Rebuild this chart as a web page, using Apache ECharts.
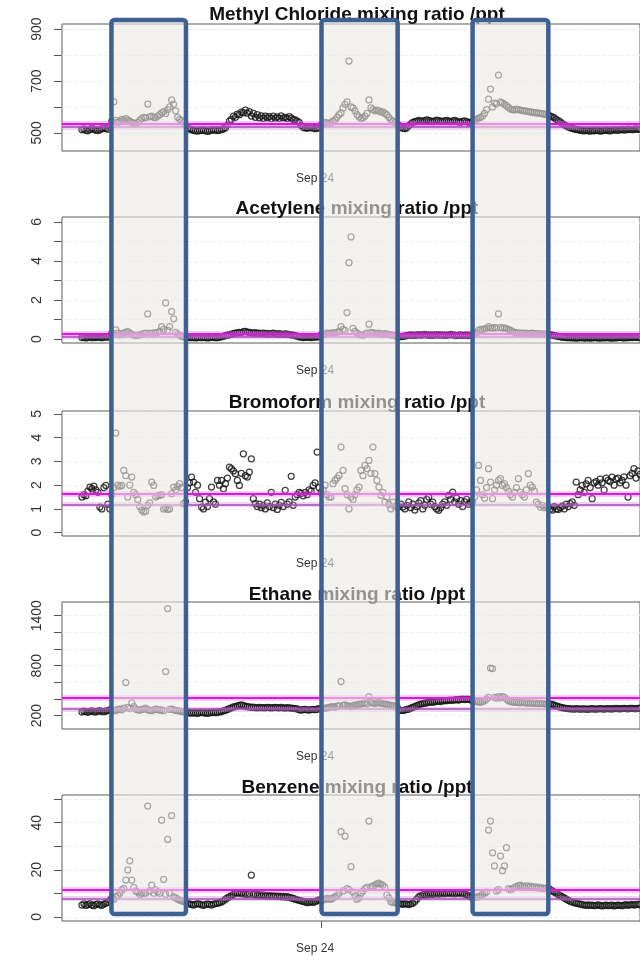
<!DOCTYPE html>
<html><head><meta charset="utf-8">
<script src="https://cdn.jsdelivr.net/npm/echarts@6/dist/echarts.min.js"></script>
<style>html,body{margin:0;padding:0;background:#fff}#c{width:640px;height:960px}</style>
</head><body><div id="c"></div>
<script>
// ---------- DATA ----------
// measurement times, hours relative to Sep 24 00:00
const hours = [
-60,-59.5,-59,-58.5,-58,-57.5,-57,-56.5,-56,-55.5,-55,-54.5,-54,-53.5,-53,-52.5,-52,-51.5,-51,-50.5,
-50,-49.5,-49,-48.5,-48,-47.5,-47,-46.5,-46,-45.5,-45,-44.5,-44,-43.5,-43,-42.5,-42,-41.5,-41,-40.5,
-40,-39.5,-39,-38.5,-38,-37.5,-37,-36.5,-36,-35.5,-35,-34.5,-34,-33.5,-33,-32.5,-32,-31.5,-31,-30.5,
-30,-29.5,-29,-28.5,-28,-27.5,-27,-26.5,-26,-25.5,-25,-24.5,-24,-23.5,-23,-22.5,-22,-21.5,-21,-20.5,
-20,-19.5,-19,-18.5,-18,-17.5,-17,-16.5,-16,-15.5,-15,-14.5,-14,-13.5,-13,-12.5,-12,-11.5,-11,-10.5,
-10,-9.5,-9,-8.5,-8,-7.5,-7,-6.5,-6,-5.5,-5,-4.5,-4,-3.5,-3,-2.5,-2,-1.5,-1,-0.5,
0,0.5,1,1.5,2,2.5,3,3.5,4,4.5,5,5.5,6,6.5,7,7.5,8,8.5,9,9.5,
10,10.5,11,11.5,12,12.5,13,13.5,14,14.5,15,15.5,16,16.5,17,17.5,18,18.5,19,19.5,
20,20.5,21,21.5,22,22.5,23,23.5,24,24.5,25,25.5,26,26.5,27,27.5,28,28.5,29,29.5,
30,30.5,31,31.5,32,32.5,33,33.5,34,34.5,35,35.5,36,36.5,37,37.5,38,38.5,39,39.5,
40,40.5,41,41.5,42,42.5,43,43.5,44,44.5,45,45.5,46,46.5,47,47.5,48,48.5,49,49.5,
50,50.5,51,51.5,52,52.5,53,53.5,54,54.5,55,55.5,56,56.5,57,57.5,58,58.5,59,59.5,
60,60.5,61,61.5,62,62.5,63,63.5,64,64.5,65,65.5,66,66.5,67,67.5,68,68.5,69,69.5,
70,70.5,71,71.5,72,72.5,73,73.5,74,74.5,75,75.5,76,76.5,77,77.5,78,78.5,79,79.5,
80];

const methylChloride = [
512,515,510,508,513,518,514,510,509,512,516,520,517,514,525,
545,620,548,540,545,552,548,555,550,545,540,538,535,540,548,555,560,558,611,562,565,560,558,565,570,578,582,575,590,600,627,610,585,560,552,548,540,530,
518,515,512,510,508,507,509,511,510,508,506,508,510,512,511,509,510,513,515,520,
530,545,552,565,560,572,570,580,578,588,576,582,565,575,560,570,558,566,556,565,558,563,555,565,557,562,556,566,558,560,555,563,557,552,550,545,
540,528,522,519,518,520,523,518,516,518,520,
530,535,540,538,535,540,545,550,560,570,577,596,610,620,777,600,596,585,570,562,555,558,565,575,627,596,590,585,588,585,580,581,575,570,560,550,545,540,535,
530,522,518,516,520,528,535,540,543,545,548,546,544,547,550,548,545,543,546,549,547,545,544,546,548,545,543,546,548,545,542,540,544,546,543,540,538,
545,548,552,557,560,565,575,590,630,669,600,615,612,723,619,615,610,605,598,592,590,588,592,590,588,586,585,584,582,580,580,578,578,576,575,574,572,570,
568,565,562,558,552,547,542,536,531,527,523,520,517,515,513,512,510,509,508,510,508,507,509,508,510,509,507,508,510,511,509,508,510,512,511,510,512,513,511,512,514,513,512,514,515,513,514];

const acetylene = [
0.08,0.1,0.06,0.09,0.12,0.07,0.1,0.08,0.11,0.09,0.07,0.1,0.12,0.09,0.15,
0.3,0.25,0.47,0.3,0.22,0.28,0.3,0.35,0.39,0.3,0.25,0.2,0.18,0.2,0.22,0.25,0.28,0.3,1.29,0.3,0.28,0.32,0.3,0.35,0.4,0.64,0.5,1.85,0.45,0.64,1.41,1.04,0.35,0.25,0.2,0.15,0.12,0.1,
0.1,0.08,0.07,0.09,0.06,0.08,0.1,0.07,0.09,0.08,0.06,0.08,0.1,0.09,0.07,0.08,0.1,0.12,0.15,0.18,
0.2,0.22,0.25,0.28,0.3,0.32,0.35,0.33,0.38,0.4,0.36,0.34,0.32,0.3,0.33,0.29,0.31,0.28,0.3,0.27,0.29,0.26,0.28,0.3,0.27,0.25,0.28,0.26,0.24,0.27,0.25,0.23,0.22,0.2,0.18,0.15,
0.12,0.1,0.08,0.1,0.09,0.11,0.08,0.1,0.12,0.1,0.15,
0.2,0.22,0.25,0.3,0.28,0.3,0.32,0.3,0.35,0.4,0.64,0.5,0.45,1.36,3.91,5.23,0.55,0.4,0.3,0.25,0.22,0.2,0.25,0.3,0.76,0.35,0.32,0.3,0.28,0.3,0.27,0.25,0.28,0.26,0.24,0.22,0.2,0.18,0.15,
0.15,0.12,0.14,0.16,0.18,0.2,0.22,0.2,0.19,0.21,0.23,0.2,0.22,0.24,0.21,0.2,0.22,0.19,0.21,0.23,0.2,0.22,0.21,0.19,0.2,0.22,0.24,0.21,0.2,0.18,0.2,0.22,0.19,0.2,0.21,0.18,0.2,
0.25,0.28,0.3,0.45,0.5,0.48,0.52,0.55,0.64,0.58,0.55,0.6,0.56,1.29,0.6,0.55,0.58,0.54,0.5,0.45,0.4,0.35,0.32,0.3,0.31,0.3,0.29,0.3,0.28,0.29,0.3,0.28,0.27,0.28,0.26,0.27,0.25,0.24,
0.25,0.22,0.2,0.18,0.16,0.14,0.12,0.1,0.09,0.08,0.07,0.08,0.06,0.07,0.05,0.06,0.08,0.07,0.05,0.06,0.07,0.05,0.06,0.08,0.07,0.06,0.05,0.07,0.06,0.08,0.07,0.06,0.05,0.07,0.06,0.08,0.09,0.07,0.06,0.08,0.07,0.09,0.08,0.1,0.09,0.08,0.1];

const bromoform = [
1.5,1.6,1.55,1.75,1.92,1.85,1.96,1.8,1.7,1.08,1.0,1.9,1.99,1.2,1.0,
1.6,1.9,4.19,2.0,1.95,1.99,2.62,2.4,1.5,2.0,2.34,1.7,1.6,1.4,1.1,0.95,0.87,0.9,1.15,1.25,2.13,1.99,1.5,1.55,1.57,1.6,1.0,1.05,0.98,1.0,1.64,1.92,1.8,1.95,2.06,1.9,1.22,1.3,
1.9,2.1,2.34,2.13,1.7,2.0,1.43,1.08,1.0,1.29,1.1,1.43,1.92,1.3,1.2,2.2,2.0,2.2,1.85,2.06,2.3,2.76,2.69,2.6,2.48,2.2,1.99,2.5,3.32,2.4,2.34,2.55,3.11,1.43,1.22,1.1,1.2,1.05,1.15,1.0,1.25,1.1,1.7,1.05,1.2,0.98,1.15,1.27,1.1,1.78,1.2,1.3,2.37,1.15,1.5,1.6,1.7,1.65,1.55,1.7,1.6,1.8,1.75,1.99,2.1,3.39,1.9,
1.7,1.8,2.0,1.6,1.5,1.5,2.06,2.2,2.3,2.41,3.6,2.62,1.85,1.6,1.0,1.5,1.4,1.6,1.8,1.92,2.62,2.4,2.83,2.7,3.04,2.5,3.6,2.48,2.2,1.92,1.57,1.7,1.29,1.5,1.2,1.0,1.29,1.1,1.15,
1.1,1.2,1.08,1.0,1.15,1.3,1.05,1.2,0.95,1.1,1.25,1.35,1.0,1.15,1.4,1.5,1.2,1.29,1.1,1.0,0.94,1.05,1.2,1.3,1.15,1.57,1.4,1.71,1.3,1.45,1.2,1.35,1.1,1.3,1.4,1.2,1.3,
1.3,1.5,1.8,2.83,2.2,1.6,1.45,1.9,2.69,2.13,1.43,1.8,2.0,2.2,2.27,1.99,2.05,1.9,1.75,1.6,1.5,1.7,1.9,2.27,1.71,1.6,1.5,1.8,2.48,2.0,1.92,1.75,1.29,1.2,1.08,1.15,1.05,1.1,
1.05,1.0,0.95,1.1,1.0,0.98,1.05,1.12,1.0,1.2,1.1,1.22,1.3,1.15,2.13,1.6,1.8,1.99,1.7,2.05,2.2,1.9,1.43,2.1,2.15,2.0,2.25,2.1,1.8,2.3,2.2,2.15,2.34,2.0,2.25,2.3,2.1,2.2,2.35,2.0,1.5,2.4,2.5,2.69,2.3,2.6,2.45];

const ethane = [
245,255,250,240,252,258,248,245,255,260,250,248,255,262,270,
270,265,260,275,280,270,290,598,300,285,353,310,280,270,265,275,280,290,270,265,260,270,280,275,265,270,260,730,1486,275,280,270,265,260,255,250,248,245,
240,235,230,238,232,228,235,240,236,230,228,234,238,242,236,240,245,250,258,265,
275,285,295,305,310,318,325,330,322,315,308,305,300,302,298,295,300,296,298,294,300,297,293,298,300,296,294,299,295,292,298,294,290,288,285,282,
270,268,272,275,270,268,273,276,272,278,285,
280,285,290,295,300,305,310,300,315,320,610,325,330,320,315,310,320,330,325,335,340,345,350,340,429,360,350,345,355,360,350,345,340,335,330,325,320,315,310,
270,265,262,268,275,280,290,300,310,320,330,340,345,350,355,360,365,362,368,372,375,370,378,382,380,385,388,384,390,392,388,395,398,394,400,396,392,
380,375,370,365,360,370,380,400,420,771,765,420,410,429,415,430,420,400,380,370,365,360,362,358,355,360,356,352,355,350,352,348,350,346,348,345,342,340,
345,340,335,325,318,310,302,296,292,288,285,283,282,280,284,282,279,281,283,280,278,282,284,281,279,283,285,282,280,284,286,283,281,285,287,284,282,286,288,285,283,287,289,286,284,288,290];

const benzene = [
5.0,5.5,4.8,5.2,5.6,5.0,4.7,5.3,5.5,5.1,4.9,5.4,5.8,6.2,7.0,
8.0,7.5,8.5,9.0,10.0,11.4,12.0,15.6,19.9,23.8,15.6,12.5,11.0,10.5,9.5,10.0,9.8,10.0,47.1,11.0,13.5,10.0,11.4,10.6,10.0,41.1,15.9,9.5,32.9,10.0,43.0,8.5,8.0,7.5,7.1,6.8,6.5,6.2,
5.8,5.5,5.2,5.0,5.3,5.6,5.4,5.1,4.9,5.2,5.5,5.3,5.0,5.4,5.6,5.8,6.0,6.3,6.8,7.5,
8.0,8.5,9.0,9.5,10.0,10.2,9.8,10.0,9.6,9.8,9.5,9.7,17.7,9.4,9.6,9.2,9.4,9.0,9.3,8.9,9.1,8.8,9.0,8.7,8.9,8.6,8.8,8.5,8.7,8.4,8.6,8.2,8.0,7.8,7.5,7.2,
7.0,6.8,6.5,6.3,6.0,6.2,6.4,6.1,6.5,6.8,7.2,
7.0,7.2,7.5,7.8,7.5,7.5,8.0,8.5,9.0,10.0,36.2,11.0,34.3,12.0,11.5,21.3,10.5,9.0,7.5,8.0,10.0,11.0,12.0,12.5,40.7,12.7,13.0,13.5,14.0,14.3,13.8,13.5,12.5,9.2,8.0,6.4,6.0,6.2,5.8,
5.8,5.5,5.3,5.6,5.4,5.2,5.5,5.8,6.5,7.5,8.5,9.0,9.3,9.5,9.2,9.6,9.8,9.5,9.7,9.9,9.6,9.8,10.0,9.7,9.9,10.1,9.8,10.0,9.7,9.9,10.2,9.8,10.0,9.6,9.4,9.0,8.5,
8.0,8.2,8.4,8.5,9.0,9.5,10.0,10.5,36.9,40.7,27.2,21.6,11.0,11.5,25.8,19.6,21.6,29.4,12.0,11.5,12.0,12.5,12.8,13.2,13.5,13.0,12.8,13.2,12.6,13.0,12.5,12.8,12.3,12.6,12.1,12.4,12.0,12.2,
12.0,11.5,11.0,10.5,10.0,9.5,9.0,8.5,8.0,7.5,7.0,6.6,6.3,6.0,5.8,5.6,5.4,5.2,5.0,4.9,5.1,4.8,5.0,4.7,4.9,5.1,4.8,4.6,4.9,5.0,4.7,4.8,5.0,4.6,4.8,5.0,4.9,4.7,5.0,5.2,4.9,5.1,5.3,5.0,5.2,5.4,5.1];

const panelTitles = [
  'Methyl Chloride mixing ratio /ppt',
  'Acetylene mixing ratio /ppt',
  'Bromoform mixing ratio /ppt',
  'Ethane mixing ratio /ppt',
  'Benzene mixing ratio /ppt'
];
const upperRef = [537, 0.28, 1.64, 410, 11.4];
const lowerRef = [522, 0.12, 1.19, 281, 7.8];
const yMin = [430, -0.2, -0.14, 40, -1.8];
const yMax = [920, 6.25, 5.12, 1565, 51.8];
const yTickValues = [
  [500, 600, 700, 800, 900],
  [0, 1, 2, 3, 4, 5, 6],
  [0, 1, 2, 3, 4, 5],
  [200, 400, 600, 800, 1000, 1200, 1400],
  [0, 10, 20, 30, 40, 50]
];
const yTickLabels = [
  [500, 700, 900],
  [0, 2, 4, 6],
  [0, 1, 2, 3, 4, 5],
  [200, 800, 1400],
  [0, 20, 40]
];
const xTickValues = [0];
const xTickLabels = ['Sep 24'];
const xMin = -65, xMax = 80;
// highlighted periods (hours)
const highlightStart = [-52.6, 0.1, 38];
const highlightEnd = [-33.9, 19.2, 57];

// ---------- LAYOUT ----------
const gridTop = [24, 217, 411, 602, 795];
const gridHeight = [127, 126, 125, 127, 126];
const titleTop = [0, 194, 388, 580, 773];
const FONT = '"Liberation Sans", Arial, Helvetica, sans-serif';

const panelValues = [methylChloride, acetylene, bromoform, ethane, benzene];

const chart = echarts.init(document.getElementById('c'), null, {renderer: 'canvas'});

const grids = [], xAxes = [], yAxes = [], series = [], titles = [];
panelValues.forEach((vals, p) => {
  titles.push({
    text: panelTitles[p], left: 352, top: titleTop[p], textAlign: 'center',
    textStyle: {fontFamily: FONT, fontSize: 19, fontWeight: 'bold', color: '#111'}
  });
  grids.push({left: 62, width: 580, top: gridTop[p], height: gridHeight[p],
    show: true, borderColor: '#5a5a5a', borderWidth: 1, backgroundColor: 'transparent'});
  xAxes.push({
    gridIndex: p, type: 'value', min: xMin, max: xMax, position: 'bottom',
    axisLine: {show: false, onZero: false}, splitLine: {show: false},
    axisTick: {show: true, customValues: xTickValues, length: 7, lineStyle: {color: '#555'}},
    axisLabel: {show: true, customValues: xTickValues, margin: 22, fontSize: 12, color: '#333',
      fontFamily: FONT, padding: [0, 12, 0, 0],
      formatter: v => xTickLabels[xTickValues.indexOf(v)] || ''}
  });
  yAxes.push({
    gridIndex: p, type: 'value', min: yMin[p], max: yMax[p], splitNumber: p === 3 ? 8 : 5,
    position: 'left',
    axisLine: {show: false, onZero: false},
    axisTick: {show: true, customValues: yTickValues[p], length: 8, lineStyle: {color: '#555'}},
    axisLabel: {show: true, customValues: yTickLabels[p], rotate: 90, margin: 18, fontSize: 14,
      color: '#333', fontFamily: FONT, formatter: v => String(v)},
    splitLine: {show: true, lineStyle: {color: '#eeeeee', type: 'dashed', width: 1}}
  });
  series.push({
    type: 'scatter', xAxisIndex: p, yAxisIndex: p, silent: true, animation: false,
    symbol: 'circle', symbolSize: 6,
    itemStyle: {color: 'rgba(0,0,0,0)', borderColor: '#111111', borderWidth: 1.25},
    data: hours.map((h, i) => [h, vals[i]]).filter(d => d[1] !== undefined),
    markLine: {
      silent: true, symbol: 'none', animation: false, label: {show: false},
      data: [
        {yAxis: upperRef[p], lineStyle: {color: 'rgba(240,110,240,0.35)', width: 6, type: 'solid'}},
        {yAxis: lowerRef[p], lineStyle: {color: 'rgba(205,130,215,0.35)', width: 5, type: 'solid'}},
        {yAxis: upperRef[p], lineStyle: {color: '#e412e4', width: 2, type: 'solid'}},
        {yAxis: lowerRef[p], lineStyle: {color: '#a94cb9', width: 1.5, type: 'solid'}}
      ]
    }
  });
});

chart.setOption({
  animation: false,
  backgroundColor: '#ffffff',
  title: titles, grid: grids, xAxis: xAxes, yAxis: yAxes, series: series
});

// overlay highlight boxes positioned from the time axis
const overlays = highlightStart.map((s, i) => {
  const x1 = chart.convertToPixel({xAxisIndex: 0}, s);
  const x2 = chart.convertToPixel({xAxisIndex: 0}, highlightEnd[i]);
  return {
    type: 'rect', z: 100, silent: true,
    shape: {x: x1, y: 20, width: x2 - x1, height: 894, r: 3},
    style: {fill: 'rgba(236,234,226,0.6)', stroke: '#3d6192', lineWidth: 4.5}
  };
});
chart.setOption({graphic: overlays});
</script>
</body></html>
